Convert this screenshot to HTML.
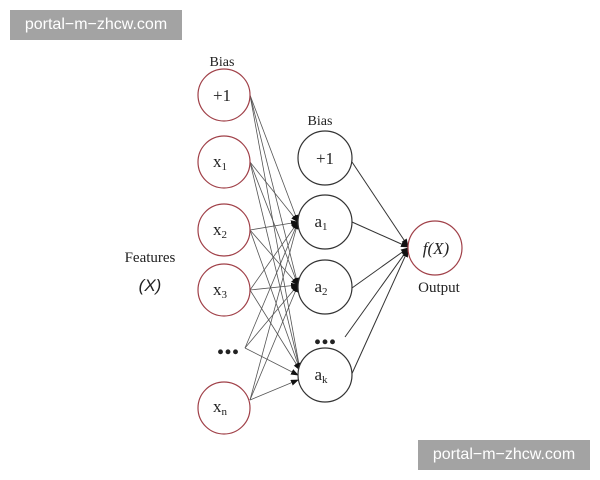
<!DOCTYPE html>
<html><head><style>
body{margin:0;background:#fff}
.wm{position:absolute;background:#a3a3a3;color:#fff;font:16px "Liberation Sans",sans-serif;width:172px;text-align:center;height:30px;line-height:30px}
</style></head><body>
<div style="position:relative;width:600px;height:480px;overflow:hidden">
<svg width="600" height="480" style="position:absolute;left:0;top:0" font-family="Liberation Serif,serif">
<defs><marker id="a" markerWidth="8" markerHeight="8" refX="7" refY="3" orient="auto" markerUnits="userSpaceOnUse"><path d="M0,0L8,3L0,6z" fill="#111"/></marker></defs>
<g stroke="#555" stroke-width="0.8" marker-end="url(#a)">
<line x1="250" y1="95" x2="298" y2="222"/><line x1="250" y1="95" x2="298" y2="285"/><line x1="250" y1="95" x2="300" y2="370"/>
<line x1="250" y1="162" x2="298" y2="222"/><line x1="250" y1="162" x2="298" y2="285"/><line x1="250" y1="162" x2="300" y2="370"/>
<line x1="250" y1="230" x2="298" y2="222"/><line x1="250" y1="230" x2="298" y2="285"/><line x1="250" y1="230" x2="300" y2="370"/>
<line x1="250" y1="290" x2="298" y2="222"/><line x1="250" y1="290" x2="298" y2="285"/><line x1="250" y1="290" x2="300" y2="370"/>
<line x1="245" y1="348" x2="298" y2="222"/><line x1="245" y1="348" x2="298" y2="285"/><line x1="245" y1="348" x2="298" y2="375"/>
<line x1="250" y1="400" x2="298" y2="222"/><line x1="250" y1="400" x2="298" y2="285"/><line x1="250" y1="400" x2="298" y2="380"/>
</g>
<g stroke="#333" stroke-width="1" marker-end="url(#a)">
<line x1="352" y1="162" x2="408" y2="246"/><line x1="352" y1="222" x2="408" y2="247"/><line x1="352" y1="288" x2="408" y2="248"/><line x1="345" y1="337" x2="408" y2="249"/><line x1="350" y1="378" x2="408" y2="250"/>
</g>
<g fill="#fff" stroke="#a04048" stroke-width="1.2">
<circle cx="224" cy="95" r="26"/><circle cx="224" cy="162" r="26"/><circle cx="224" cy="230" r="26"/><circle cx="224" cy="290" r="26"/><circle cx="224" cy="408" r="26"/><circle cx="435" cy="248" r="27"/>
</g>
<g fill="#fff" stroke="#333" stroke-width="1.2">
<circle cx="325" cy="158" r="27"/><circle cx="325" cy="222" r="27"/><circle cx="325" cy="287" r="27"/><circle cx="325" cy="375" r="27"/>
</g>
<g font-size="17" fill="#222" text-anchor="middle">
<text x="222" y="101">+1</text>
<text x="220" y="167">x<tspan font-size="11" dy="3">1</tspan></text>
<text x="220" y="235">x<tspan font-size="11" dy="3">2</tspan></text>
<text x="220" y="295">x<tspan font-size="11" dy="3">3</tspan></text>
<text x="220" y="412">x<tspan font-size="11" dy="3">n</tspan></text>
<text x="325" y="164">+1</text>
<text x="321" y="227">a<tspan font-size="11" dy="3">1</tspan></text>
<text x="321" y="292">a<tspan font-size="11" dy="3">2</tspan></text>
<text x="321" y="380">a<tspan font-size="11" dy="3">k</tspan></text>
<text x="436" y="254" font-style="italic">f(X)</text>
<text x="228" y="354" font-size="30" font-weight="bold">...</text>
<text x="325" y="344" font-size="30" font-weight="bold">...</text>
<text x="222" y="66" font-size="14">Bias</text>
<text x="320" y="125" font-size="14">Bias</text>
<text x="439" y="292" font-size="15">Output</text>
<text x="150" y="262" font-size="15">Features</text>
<text x="150" y="291" font-size="17" font-style="italic" font-family="Liberation Sans,sans-serif">(X)</text>
</g>
</svg>
<div class="wm" style="left:10px;top:10px">portal−m−zhcw.com</div>
<div class="wm" style="left:418px;top:440px">portal−m−zhcw.com</div>
</div>
</body></html>
